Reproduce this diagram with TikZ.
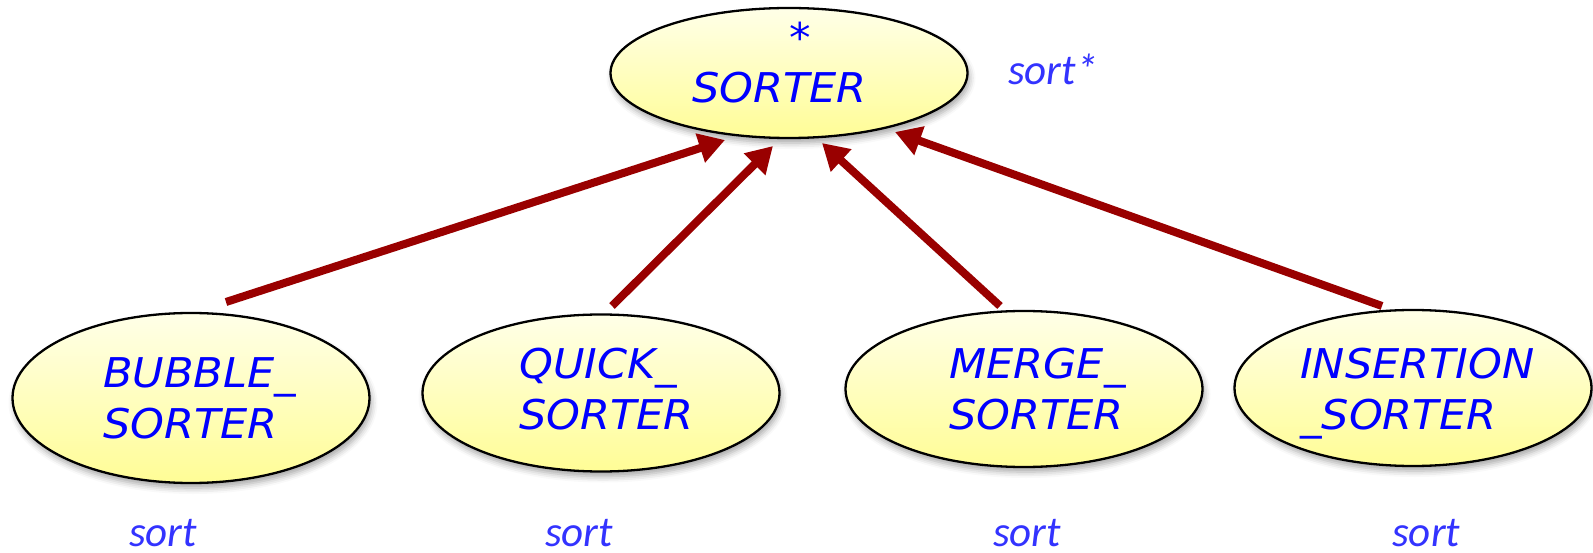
\documentclass[tikz,border=0pt]{standalone}
\usepackage{fontspec}
\newfontfamily\classfont{DejaVu Sans}[FakeStretch=1.05]
\newfontfamily\featfont{Carlito}
\usetikzlibrary{arrows.meta,shapes.geometric,shadows.blur,calc}
\definecolor{classblue}{RGB}{0,0,255}
\definecolor{featblue}{RGB}{51,51,255}
\definecolor{inherit}{RGB}{153,0,0}
\definecolor{ylTop}{RGB}{255,255,232}
\definecolor{ylMid}{RGB}{251,249,165}
\definecolor{ylBot}{RGB}{255,253,150}
\begin{document}
\begin{tikzpicture}[x=1pt,y=-1pt,
  cls/.style={ellipse, draw=black, line width=2.3pt, inner sep=0pt,
    minimum width=357pt,
    top color=ylTop, middle color=ylMid, bottom color=ylBot,
    blur shadow={shadow xshift=2pt, shadow yshift=-5pt,
      shadow blur radius=6pt, shadow opacity=35}},
  clsname/.style={font=\classfont\itshape\fontsize{41}{51}\selectfont,
    text=classblue, align=left, inner sep=0pt},
  feat/.style={font=\featfont\itshape\fontsize{43}{50}\selectfont,
    text=featblue, inner sep=0pt, text depth=0pt, anchor=base west},
  inh/.style={draw=inherit, line width=8pt,
    -{Triangle[length=26pt,width=29pt]}}]
\useasboundingbox (0,0) rectangle (1593,553);

% class ellipses
\node[cls, minimum height=130pt] (sorter) at (789,73) {};
\node[cls, minimum height=170pt] (bubble) at (191,398) {};
\node[cls, minimum height=157pt] (quick) at (601,393) {};
\node[cls, minimum height=156pt] (merge) at (1024,389) {};
\node[cls, minimum height=156pt] (insertion) at (1413,388) {};

% class names
\node[clsname, anchor=base] (star) at (800,53) {*};
\node[clsname, anchor=base west] (sortername) at (692,103) {SORTER};
\node[clsname, anchor=north west] (bubblename) at (103,357) {BUBBLE\_\\SORTER};
\node[clsname, anchor=north west] (quickname) at (519,348) {QUICK\_\\SORTER};
\node[clsname, anchor=north west] (mergename) at (949,348) {MERGE\_\\SORTER};
\node[clsname, anchor=north west] (insertionname) at (1300,348) {INSERTION\\\_SORTER};

% features
\node[feat] (fsorter) at (1008,85) {sort*};
\node[feat] (fbubble) at (129,546) {sort};
\node[feat] (fquick) at (545,546) {sort};
\node[feat] (fmerge) at (993,546) {sort};
\node[feat] (finsertion) at (1392,546) {sort};

% inheritance links
\draw[inh] ($(bubble.center)+(35,-96)$) -- ($(sorter.center)+(-64,67)$);
\draw[inh] ($(quick.center)+(11,-87)$) -- ($(sorter.center)+(-16,73)$);
\draw[inh] ($(merge.center)+(-24,-83)$) -- ($(sorter.center)+(33,70)$);
\draw[inh] ($(insertion.center)+(-31,-82)$) -- ($(sorter.center)+(106,59)$);
\end{tikzpicture}
\end{document}
